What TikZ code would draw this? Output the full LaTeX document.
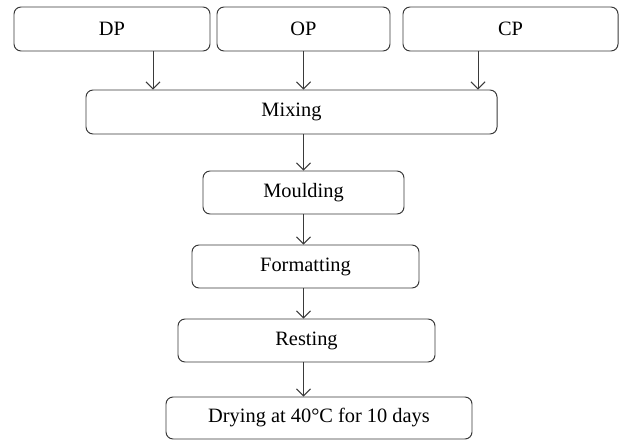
\documentclass[tikz,border=0pt]{standalone}
\usepackage{fontspec}
\setmainfont{Liberation Serif}
\usetikzlibrary{positioning,arrows.meta}
\definecolor{Line}{HTML}{3A3A3A}

\begin{document}
\begin{tikzpicture}[
        box/.style={draw=Line,line width=.7pt,rounded corners=5pt,minimum height=1.1cm,
                    align=center,font=\fontsize{14.5}{17}\selectfont},
        arr/.style={-{Straight Barb[length=5pt,width=10pt]},line width=.7pt,Line}
      ]
        \useasboundingbox (0,0) rectangle (15.475,-11);
        \node[box,minimum width=4.9cm] (dp) at (2.8,-.725) {DP};
        \node[box,minimum width=4.325cm] (op) at (7.5875,-.725) {OP};
        \node[box,minimum width=5.375cm] (cp) at (12.7625,-.725) {CP};
        \node[box,minimum width=10.275cm] (mix) at (7.2875,-2.8) {Mixing};
        \node[box,minimum width=5.025cm,minimum height=1.075cm] (mould) at (7.5875,-4.8125) {Moulding};
        \node[box,minimum width=5.675cm,minimum height=1.075cm] (format) at (7.6375,-6.6625) {Formatting};
        \node[box,minimum width=6.425cm,minimum height=1.075cm] (rest) at (7.6625,-8.5125) {Resting};
        \node[box,minimum width=7.65cm,minimum height=1.05cm] (dry) at (7.975,-10.45) {Drying at 40°C for 10 days};
        \draw[arr] ([xshift=1.025cm]dp.south)--([xshift=1.025cm]dp.south |- mix.north);
        \draw[arr] (op.south)--(op.south |- mix.north);
        \draw[arr] ([xshift=-.8125cm]cp.south)--([xshift=-.8125cm]cp.south |- mix.north);
        \draw[arr] (mix.south -| op.south)--(mould.north);
        \draw[arr] (mould.south)--(mould.south |- format.north);
        \draw[arr] (mould.south |- format.south)--(mould.south |- rest.north);
        \draw[arr] (mould.south |- rest.south)--(mould.south |- dry.north);
      \end{tikzpicture}
\end{document}
